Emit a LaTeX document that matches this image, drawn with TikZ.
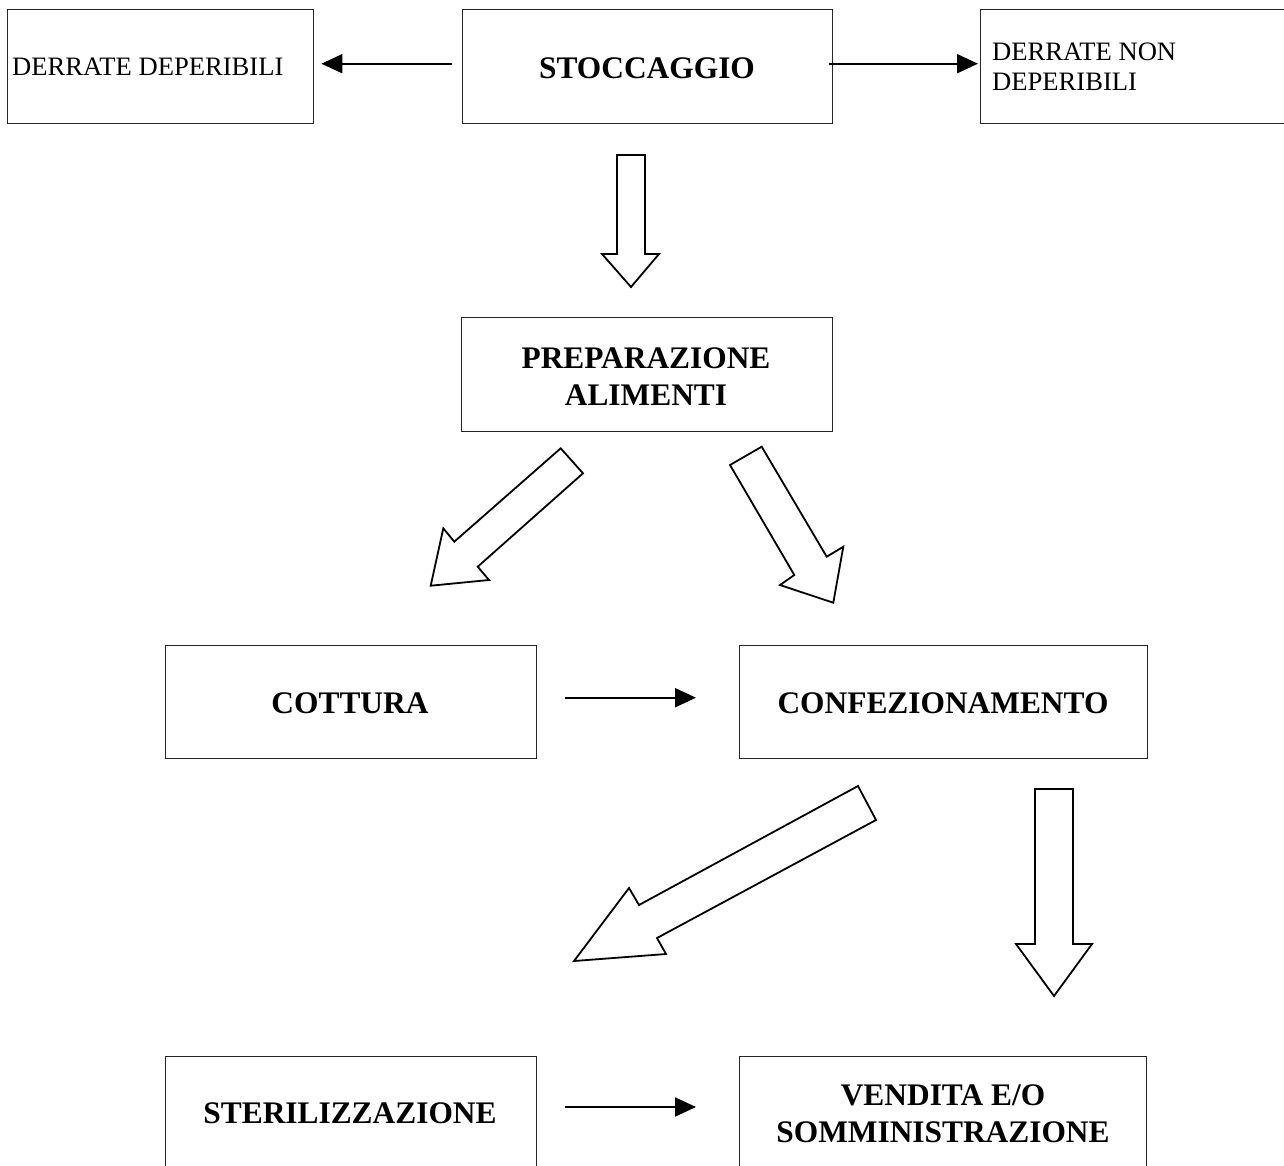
\documentclass[tikz,border=0pt]{standalone}
\usepackage{fontspec}
\setmainfont{Liberation Serif}
\usetikzlibrary{arrows.meta}
\begin{document}
\begin{tikzpicture}[x=1pt,y=-1pt,
  box/.style={draw=black!85, line width=1.4pt, anchor=north west, inner sep=0pt},
  lbl/.style={anchor=base, inner sep=0pt, font=\fontsize{31.4}{37}\selectfont\bfseries},
  plain/.style={anchor=base west, inner sep=0pt, font=\fontsize{26.6}{30}\selectfont},
  conn/.style={line width=2pt, -{Triangle[length=21pt,width=19pt]}},
  blk/.style={draw=black, line width=1.8pt, fill=white, line join=miter}]
\clip (0,0) rectangle (1284,1165);
\fill[white] (0,0) rectangle (1284,1165);
% boxes
\node[box, minimum width=306pt, minimum height=114pt] (b1) at (7,9) {};
\node[box, minimum width=370pt, minimum height=114pt] (b2) at (462,9) {};
\node[box, minimum width=330pt, minimum height=114pt] (b3) at (980,9) {};
\node[box, minimum width=371pt, minimum height=114pt] (b4) at (461,317) {};
\node[box, minimum width=371pt, minimum height=113pt] (b5) at (165,645) {};
\node[box, minimum width=408pt, minimum height=113pt] (b6) at (739,645) {};
\node[box, minimum width=371pt, minimum height=160pt] (b7) at (165,1056) {};
\node[box, minimum width=407pt, minimum height=160pt] (b8) at (739,1056) {};
% texts
\node[plain] (t1) at (12,75) {DERRATE DEPERIBILI};
\node[lbl] (t2) at (647,78) {STOCCAGGIO};
\node[plain] (t3a) at (992,60) {DERRATE NON};
\node[plain] (t3b) at (992,90) {DEPERIBILI};
\node[lbl] (t4a) at (646,368) {PREPARAZIONE};
\node[lbl] (t4b) at (646,405) {ALIMENTI};
\node[lbl] (t5) at (350,713) {COTTURA};
\node[lbl] (t6) at (943,713) {CONFEZIONAMENTO};
\node[lbl] (t7) at (350,1123) {STERILIZZAZIONE};
\node[lbl] (t8a) at (943,1105) {VENDITA E/O};
\node[lbl] (t8b) at (943,1142) {SOMMINISTRAZIONE};
% connectors
\draw[conn] ([xshift=-10pt,yshift=3pt]b2.west) -- ([xshift=7pt,yshift=3pt]b1.east);
\draw[conn] ([xshift=-4pt,yshift=3pt]b2.east) -- ([xshift=-2pt,yshift=3pt]b3.west);
\draw[conn] ([xshift=28pt,yshift=4.5pt]b5.east) -- ([xshift=-43pt,yshift=4.5pt]b6.west);
\draw[conn] ([xshift=28pt,yshift=-51pt]b7.north east) -- ([xshift=-43pt,yshift=-51pt]b8.north west);
% block arrows
\draw[blk] (617,155) -- (645,155) -- (645,254) -- (659,254) -- (631,287) -- (602,254) -- (617,254) -- cycle;
\draw[blk] (560.7,448.3) -- (454.3,541.7) -- (443.3,528.3) -- (430.7,585.7) -- (489,580) -- (477.7,566.7) -- (583,473.3) -- cycle;
\draw[blk] (730,465) -- (794.3,575) -- (780,585) -- (833.3,602.7) -- (843.3,546.7) -- (826.7,556.7) -- (761.7,446.7) -- cycle;
\draw[blk] (858,786) -- (639,905) -- (629,888) -- (574,961) -- (666,954) -- (657,938) -- (876,820) -- cycle;
\draw[blk] (1035,789) -- (1073,789) -- (1073,944) -- (1092,944) -- (1054,996) -- (1016,944) -- (1035,944) -- cycle;
\end{tikzpicture}
\end{document}
